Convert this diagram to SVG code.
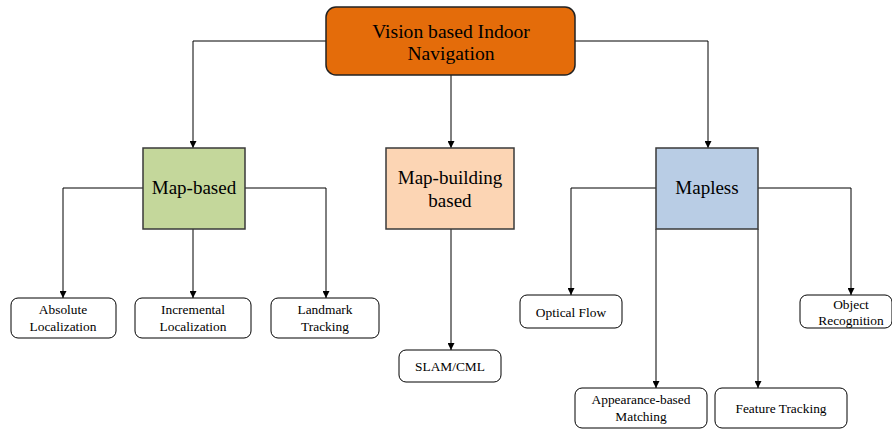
<svg xmlns="http://www.w3.org/2000/svg" width="892" height="430" viewBox="0 0 892 430">
<defs>
<marker id="arr" viewBox="0 0 8 8" refX="8" refY="4" markerWidth="7" markerHeight="7" markerUnits="userSpaceOnUse" orient="auto">
<path d="M0,0 L8,4 L0,8 z" fill="#000"/>
</marker>
<style>
.big{font-family:"Liberation Serif","Times New Roman",serif;font-size:19.6px;fill:#000;text-anchor:middle}
.mid{font-family:"Liberation Serif","Times New Roman",serif;font-size:19px;fill:#000;text-anchor:middle}
.sm{font-family:"Liberation Serif","Times New Roman",serif;font-size:13.4px;fill:#000;text-anchor:middle}
.leaf{fill:#fff;stroke:#000;stroke-width:1}
.cat{stroke:#3a3a3a;stroke-width:1.5}
.conn{fill:none;stroke:#000;stroke-width:1;marker-end:url(#arr)}
</style>
</defs>
<rect width="892" height="430" fill="#fff"/>
<g id="connectors">
<path class="conn" d="M326,41 H193 V148"/>
<path class="conn" d="M575,41 H708 V148"/>
<path class="conn" d="M451,75 V148"/>
<path class="conn" d="M143,188 H63 V298"/>
<path class="conn" d="M193,229 V298"/>
<path class="conn" d="M245,188 H326 V298"/>
<path class="conn" d="M451,229 V350"/>
<path class="conn" d="M656,188 H571 V295"/>
<path class="conn" d="M758,188 H851 V295"/>
<path class="conn" d="M656,229 V388"/>
<path class="conn" d="M758,229 V388"/>
</g>
<g id="root">
<rect x="326" y="7" width="249" height="68" rx="10" fill="#E46C0A" stroke="#222" stroke-width="1.5"/>
<text class="big" x="451" y="38">Vision based Indoor</text>
<text class="big" x="451" y="60">Navigation</text>
</g>
<g id="map-based">
<rect class="cat" x="143" y="148" width="102" height="81" fill="#C4D79B"/>
<text class="mid" x="194" y="194">Map-based</text>
</g>
<g id="map-building">
<rect class="cat" x="386" y="148" width="128" height="81" fill="#FCD5B4"/>
<text class="mid" x="450" y="184">Map-building</text>
<text class="mid" x="450" y="207">based</text>
</g>
<g id="mapless">
<rect class="cat" x="656" y="148" width="102" height="81" fill="#B9CDE5"/>
<text class="mid" x="707" y="194">Mapless</text>
</g>
<g id="absolute">
<rect class="leaf" x="11" y="298" width="105" height="40" rx="7"/>
<text class="sm" x="63" y="314">Absolute</text>
<text class="sm" x="63" y="331">Localization</text>
</g>
<g id="incremental">
<rect class="leaf" x="135" y="298" width="116" height="40" rx="7"/>
<text class="sm" x="193" y="314">Incremental</text>
<text class="sm" x="193" y="331">Localization</text>
</g>
<g id="landmark">
<rect class="leaf" x="271" y="298" width="108" height="40" rx="7"/>
<text class="sm" x="325" y="314">Landmark</text>
<text class="sm" x="325" y="331">Tracking</text>
</g>
<g id="slam">
<rect class="leaf" x="399" y="350" width="102" height="32" rx="7"/>
<text class="sm" x="450" y="371">SLAM/CML</text>
</g>
<g id="optical-flow">
<rect class="leaf" x="520" y="295" width="102" height="33" rx="7"/>
<text class="sm" x="571" y="317">Optical Flow</text>
</g>
<g id="object-recognition">
<rect class="leaf" x="800" y="295" width="92" height="33" rx="7"/>
<text class="sm" x="851" y="309">Object</text>
<text class="sm" x="851" y="325">Recognition</text>
</g>
<g id="appearance">
<rect class="leaf" x="575" y="388" width="132" height="40" rx="7"/>
<text class="sm" x="641" y="404">Appearance-based</text>
<text class="sm" x="641" y="421">Matching</text>
</g>
<g id="feature-tracking">
<rect class="leaf" x="715" y="388" width="132" height="40" rx="7"/>
<text class="sm" x="781" y="413">Feature Tracking</text>
</g>
</svg>
